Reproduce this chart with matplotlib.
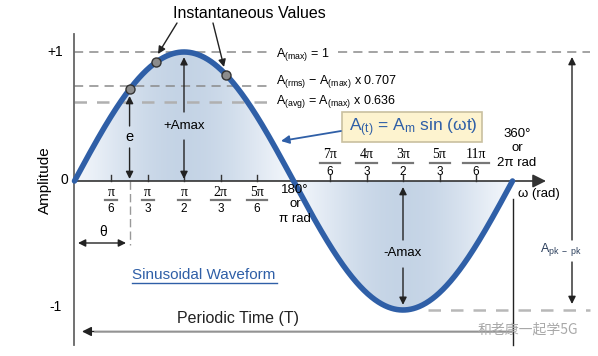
import numpy as np
import matplotlib
matplotlib.use('Agg')
import matplotlib.pyplot as plt
from matplotlib.patches import PathPatch, FancyBboxPatch

plt.rcParams['font.family'] = ['Liberation Sans', 'DejaVu Sans']
plt.rcParams['mathtext.fontset'] = 'custom'
plt.rcParams['mathtext.rm'] = 'Liberation Sans'
plt.rcParams['mathtext.it'] = 'Liberation Sans:italic'

# ---------------- data ----------------
amp_max = 1.0
rms_line = 0.74          # dashed rms level as drawn
avg_line = 0.61          # dashed avg level as drawn
inst_angles = [0.79, 1.17, 2.18]     # instantaneous value points (rad)
tick_mult = [1, 2, 3, 4, 5, 7, 8, 9, 10, 11]   # multiples of pi/6
tick_num = ['π', 'π', 'π', '2π', '5π', '7π', '4π', '3π', '5π', '11π']
tick_den = ['6', '3', '2', '3', '6', '6', '3', '2', '3', '6']
y_tick_labels = ['+1', '0', '-1']
y_tick_values = [1, 0, -1]

# ---------------- layout helpers (pixels -> data) ----------------
W, H = 598, 356
S = 219 / np.pi      # px per rad
U = 129              # px per amplitude unit
X0, Y0 = 74.5, 181
def dx(p): return (p - X0) / S
def dy(p): return (Y0 - p) / U

BLUE = '#2f5fa7'
fig = plt.figure(figsize=(W / 100, H / 100), dpi=100)
ax = fig.add_axes([0, 0, 1, 1])
ax.axis('off')

# ---------------- gradient fill ----------------
xs = np.linspace(0, 2 * np.pi, 800)
ys = amp_max * np.sin(xs)
light = np.array([0.95, 0.965, 0.985])
dark = np.array([0.77, 0.83, 0.90])
t = np.abs(np.sin(xs)) ** 1.3
img = light[None, :] * (1 - t[:, None]) + dark[None, :] * t[:, None]
im = ax.imshow(img[None, :, :], extent=[0, 2 * np.pi, -1, 1], aspect='auto',
               interpolation='bilinear', zorder=1)
poly = ax.fill_between(xs, ys, 0, facecolor='none', edgecolor='none')
clip = PathPatch(poly.get_paths()[0], transform=ax.transData,
                 facecolor='none', edgecolor='none')
ax.add_patch(clip)
im.set_clip_path(clip)

# ---------------- curve ----------------
ax.plot(xs, ys, color=BLUE, lw=4, solid_capstyle='round', zorder=6)

# ---------------- axes ----------------
ax.plot([0, 0], [dy(34), dy(345)], color='#666666', lw=1.3, zorder=3)
ax.annotate('', xy=(dx(546), 0), xytext=(0, 0),
            arrowprops=dict(arrowstyle='-|>', color='#333333', lw=1.2,
                            mutation_scale=20, shrinkA=0, shrinkB=0), zorder=4)

# dashed reference levels
dash = dict(lw=1.1, dashes=(6, 4))
ax.plot([0, dx(270)], [amp_max, amp_max], color='#8a8a8a', **dash, zorder=2)
ax.plot([dx(338), dx(590)], [amp_max, amp_max], color='#8a8a8a', **dash, zorder=2)
ax.plot([0, dx(270)], [rms_line, rms_line], color='#8a8a8a', **dash, zorder=2)
ax.plot([0, dx(270)], [avg_line, avg_line], color='#b0b0b0', lw=1.8, dashes=(5, 4), zorder=2)
ax.plot([dx(428), dx(590)], [-amp_max, -amp_max], color='#b8b8b8', lw=1.8, dashes=(5, 4), zorder=2)

# level labels
fs_small = 9
ax.text(dx(276), dy(55), r'A$_{\rm (max)}$ = 1', fontsize=fs_small, va='center', ha='left')
ax.text(dx(276), dy(82), r'A$_{\rm (rms)}$ $-$ A$_{\rm (max)}$ x 0.707', fontsize=fs_small, va='center', ha='left')
ax.text(dx(276), dy(101), r'A$_{\rm (avg)}$ = A$_{\rm (max)}$ x 0.636', fontsize=fs_small, va='center', ha='left')

# y tick labels
ax.text(dx(63), dy(52), y_tick_labels[0], fontsize=10, ha='right', va='center')
ax.text(dx(68), dy(180), y_tick_labels[1], fontsize=10, ha='right', va='center')
ax.text(dx(62), dy(307), y_tick_labels[2], fontsize=10, ha='right', va='center')
ax.text(dx(45), dy(180), 'Amplitude', fontsize=11, rotation=90, ha='center', va='center')

# x ticks with fraction labels
for m, num, den in zip(tick_mult, tick_num, tick_den):
    xt = m * np.pi / 6
    ax.plot([xt, xt], [dy(175), 0], color='#333333', lw=1, zorder=4)
    if m < 6:
        yn, yb, yd = dy(192), dy(199.5), dy(208.5)
    else:
        yn, yb, yd = dy(154), dy(162.5), dy(172)
    ax.text(xt, yn, num, fontsize=10, family='Liberation Serif', ha='center', va='center', zorder=7)
    half = (6 if len(num) == 1 else 10 if len(num) == 2 else 13) / S
    ax.plot([xt - half, xt + half], [yb, yb], color='#777777', lw=1.6, zorder=7)
    ax.text(xt, yd, den, fontsize=8.5, ha='center', va='center', zorder=7)

ax.text(dx(295), dy(184), '180°\nor\nπ rad', fontsize=9.5, ha='center', va='top',
        linespacing=1.25, zorder=7)
ax.text(dx(517), dy(128), '360°\nor\n2π rad', fontsize=9.5, ha='center', va='top',
        linespacing=1.25, zorder=7)
ax.text(dx(518), dy(194), 'ω (rad)', fontsize=9.5, ha='left', va='center')

# ---------------- instantaneous points ----------------
for a in inst_angles:
    ax.plot(a, np.sin(a), 'o', ms=6.5, mfc='#8c8c8c', mec='#333333', mew=1, zorder=8)

ax.text(dx(249), dy(13), 'Instantaneous Values', fontsize=11.5, ha='center', va='center')
arrow_k = dict(arrowstyle='-|>', color='#222222', lw=1, mutation_scale=11, shrinkA=0, shrinkB=0)
ax.annotate('', xy=(dx(158), dy(54)), xytext=(dx(177), dy(23)), arrowprops=arrow_k, zorder=8)
ax.annotate('', xy=(dx(224), dy(67)), xytext=(dx(213), dy(23)), arrowprops=arrow_k, zorder=8)

# e arrows
xe = inst_angles[0]
ax.annotate('', xy=(xe, dy(96)), xytext=(xe, dy(126)), arrowprops=arrow_k, zorder=8)
ax.annotate('', xy=(xe, dy(179)), xytext=(xe, dy(148)), arrowprops=arrow_k, zorder=8)
ax.text(xe, dy(137), 'e', fontsize=10.5, ha='center', va='center', zorder=8)

# +Amax
xp = np.pi / 2
ax.annotate('', xy=(xp, amp_max * 0.96), xytext=(xp, dy(112)), arrowprops=arrow_k, zorder=8)
ax.annotate('', xy=(xp, dy(179)), xytext=(xp, dy(140)), arrowprops=arrow_k, zorder=8)
ax.text(xp, dy(126), '+Amax', fontsize=9.5, ha='center', va='center', zorder=8)

# -Amax
xn = 3 * np.pi / 2
ax.annotate('', xy=(xn, dy(187)), xytext=(xn, dy(240)), arrowprops=arrow_k, zorder=8)
ax.annotate('', xy=(xn, -amp_max * 0.96), xytext=(xn, dy(268)), arrowprops=arrow_k, zorder=8)
ax.text(xn, dy(253), '-Amax', fontsize=9.5, ha='center', va='center', zorder=8)

# A pk-pk
xk = dx(572)
ax.annotate('', xy=(xk, dy(57)), xytext=(xk, dy(240)), arrowprops=arrow_k, zorder=8)
ax.annotate('', xy=(xk, dy(304)), xytext=(xk, dy(262)), arrowprops=arrow_k, zorder=8)
ax.text(dx(561), dy(250), r'A$_{\rm pk\ -\ pk}$', fontsize=9, color='#2b3f5c',
        ha='center', va='center', zorder=8)

# theta
xth = inst_angles[0]
ax.plot([xth, xth], [0, dy(245)], color='#999999', lw=1, dashes=(6, 3), zorder=3)
ax.annotate('', xy=(dx(78), dy(243)), xytext=(dx(126), dy(243)),
            arrowprops=dict(arrowstyle='<|-|>', color='#222222', lw=1, mutation_scale=11,
                            shrinkA=0, shrinkB=0), zorder=8)
ax.text(dx(103), dy(232), 'θ', fontsize=10, ha='center', va='center')

# 2pi vertical marker
ax.plot([2 * np.pi, 2 * np.pi], [dy(199), dy(345)], color='#222222', lw=1, zorder=3)

# Sinusoidal Waveform
ax.text(dx(204), dy(275), 'Sinusoidal Waveform', fontsize=11, color=BLUE,
        ha='center', va='center')
ax.plot([dx(132), dx(277)], [dy(283), dy(283)], color=BLUE, lw=1)

# Periodic time
ax.text(dx(238), dy(319), 'Periodic Time (T)', fontsize=11.5, color='#222222',
        ha='center', va='center')
ax.annotate('', xy=(dx(82), dy(331.5)), xytext=(dx(512), dy(331.5)),
            arrowprops=dict(arrowstyle='-|>', color='#222222', lw=1, mutation_scale=14,
                            shrinkA=0, shrinkB=0), zorder=4)
ax.plot([dx(95), dx(512)], [dy(331.5), dy(331.5)], color='#aaaaaa', lw=1.2, zorder=5)

# formula box
box = FancyBboxPatch((dx(342), dy(142)), dx(482) - dx(342), dy(112) - dy(142),
                     boxstyle='square,pad=0', facecolor='#fdf3cf', edgecolor='#c9c0a0',
                     lw=1.2, zorder=9)
ax.add_patch(box)
ax.text(dx(413), dy(128), r'A$_{\rm (t)}$ = A$_{\rm m}$ sin (ωt)', fontsize=12.5,
        color=BLUE, ha='center', va='center', zorder=10)
ax.annotate('', xy=(dx(281), dy(141)), xytext=(dx(341), dy(131)),
            arrowprops=dict(arrowstyle='-|>', color=BLUE, lw=1.3, mutation_scale=12,
                            shrinkA=0, shrinkB=0), zorder=9)

# watermark
ax.text(dx(528), dy(330), '和老康一起学5G', fontsize=10, color='#a8a8a8',
        family=['Noto Sans CJK SC', 'DejaVu Sans'], ha='center', va='center', zorder=10)

ax.set_xlim(dx(0), dx(W))
ax.set_ylim(dy(H), dy(0))
fig.savefig('out.png', dpi=100, facecolor='white')
